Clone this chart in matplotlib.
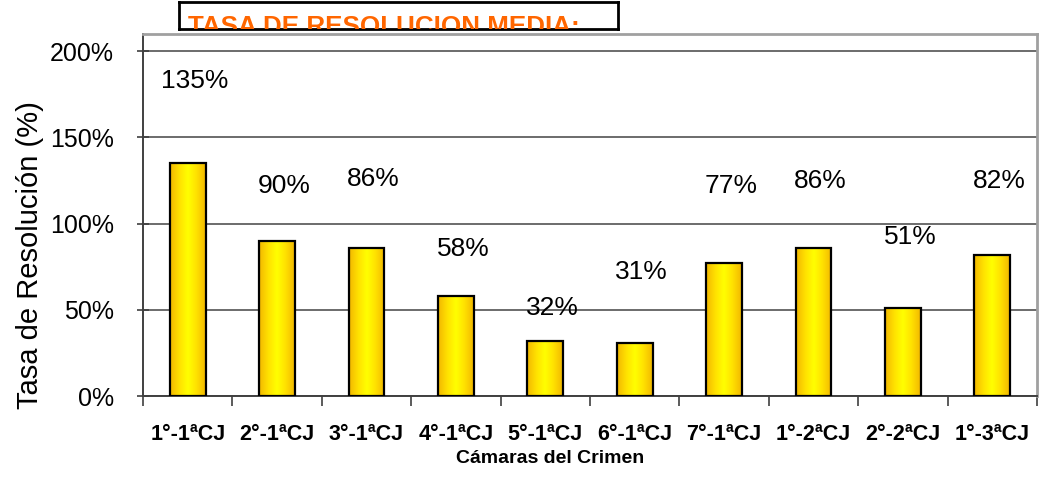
import matplotlib
matplotlib.use("Agg")
import matplotlib.pyplot as plt
import numpy as np
from matplotlib.colors import LinearSegmentedColormap

plt.rcParams['font.family'] = ['Liberation Sans', 'DejaVu Sans']

# data
camaras = ['1°-1ªCJ', '2°-1ªCJ', '3°-1ªCJ', '4°-1ªCJ', '5°-1ªCJ',
           '6°-1ªCJ', '7°-1ªCJ', '1°-2ªCJ', '2°-2ªCJ', '1°-3ªCJ']
tasa = [135, 90, 86, 58, 32, 31, 77, 86, 51, 82]
# where the value labels sit (in % units), they float above the bars
label_y = [183, 122, 126, 85, 51, 72, 122, 125, 92, 125]

fig = plt.figure(figsize=(10.45, 4.84), dpi=100)
ax = fig.add_axes([143/1045, 1-396/484, 894/1045, 362/484])

x = np.arange(len(camaras))
bars = ax.bar(x, tasa, width=0.4, facecolor='none', edgecolor='black',
              linewidth=1.6, zorder=4)

# yellow gradient fill, darker gold at the edges
cmap = LinearSegmentedColormap.from_list('amarillo', ['#F2B800', '#FFE000', '#FFFF00', '#FFE000', '#F2B800'])
grad = np.linspace(0, 1, 64).reshape(1, -1)
for b in bars:
    im = ax.imshow(grad, cmap=cmap, aspect='auto', zorder=3,
                   extent=[b.get_x(), b.get_x()+b.get_width(), 0, b.get_height()])
    im.set_clip_path(b)

for xi, v, ly in zip(x, tasa, label_y):
    ax.text(xi + 0.08, ly, f'{v}%', ha='center', va='center', fontsize=19, zorder=5)

ax.set_xlim(-0.5, len(camaras) - 0.5)
ax.set_ylim(0, 210)
ax.set_yticks([0, 50, 100, 150, 200])
ax.set_yticklabels(['0%', '50%', '100%', '150%', '200%'], fontsize=18)
ax.yaxis.grid(True, color='#606060', linewidth=1.3, zorder=1)
ax.set_axisbelow(True)

ax.set_xticks(x)
ax.set_xticklabels(camaras, fontsize=15.5, fontweight='bold')
ax.tick_params(axis='x', length=0, pad=20)
ax.set_xticks(np.arange(-0.5, len(camaras)), minor=True)
ax.tick_params(axis='x', which='minor', length=7, width=1.2, color='#404040', direction='out')
ax.tick_params(axis='y', length=8, width=1.2, color='#404040', pad=17, direction='inout')

for s in ['top', 'right']:
    ax.spines[s].set_color('#A0A0A0')
    ax.spines[s].set_linewidth(2)
for s in ['left', 'bottom']:
    ax.spines[s].set_color('#404040')
    ax.spines[s].set_linewidth(1.4)

ax.set_ylabel('Tasa de Resolución (%)', fontsize=21)
ax.yaxis.set_label_coords(-0.111, 0.39)
ax.set_xlabel('Cámaras del Crimen', fontsize=14, fontweight='bold')
ax.xaxis.set_label_coords(0.455, -0.15)

# title box, text cut off at the bottom edge
tax = fig.add_axes([179/1045, 1-29/484, 439/1045, 27/484])
tax.set_xticks([])
tax.set_yticks([])
for s in tax.spines.values():
    s.set_linewidth(2)
    s.set_color('black')
tax.text(0.02, -0.2, 'TASA DE RESOLUCION MEDIA:', transform=tax.transAxes,
         fontsize=18.7, fontweight='bold', color='#FF6600', va='baseline', ha='left', clip_on=True)

fig.savefig('out.png', dpi=100)
